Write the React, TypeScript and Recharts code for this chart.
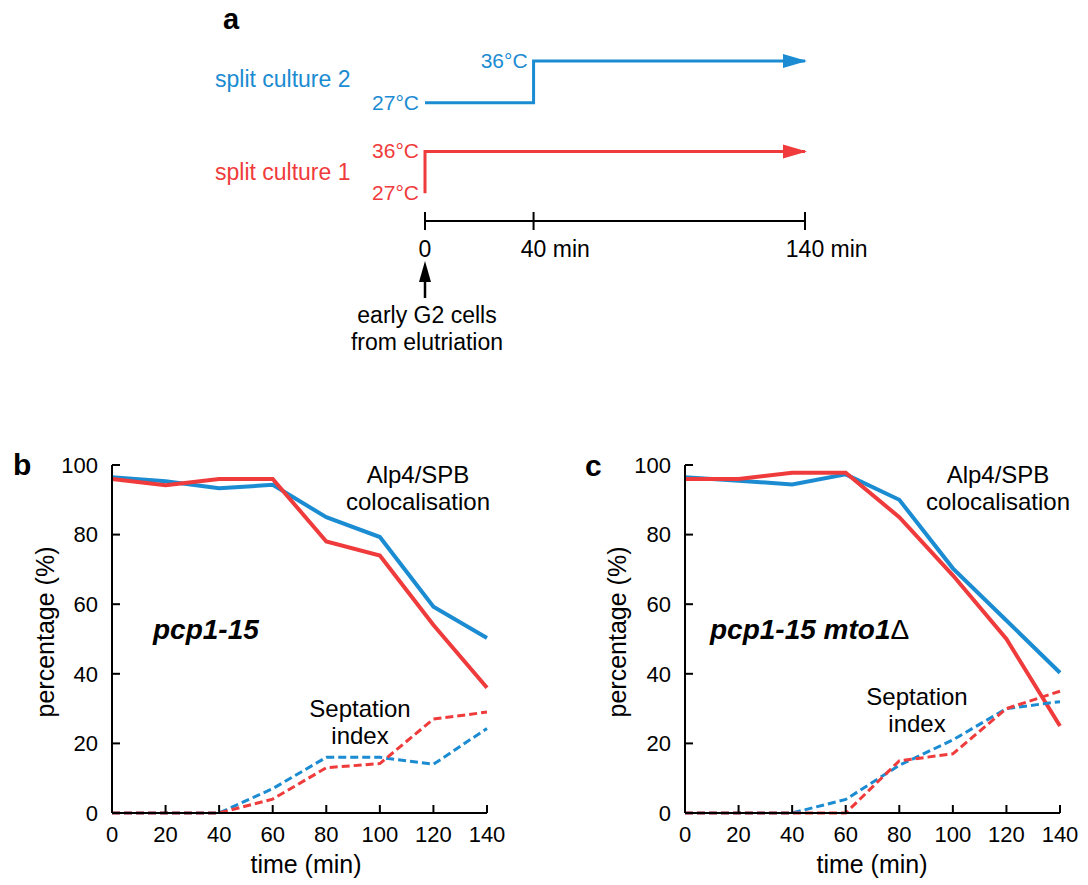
import React from 'react';
import { LineChart, Line, XAxis, YAxis } from 'recharts';

const FONT = '"Liberation Sans", Arial, Helvetica, sans-serif';
const BLUE = '#1b8bd2';
const RED = '#ef3b3b';

// panel a: temperature shift protocol
const culture2Time = [0, 40, 40, 140];
const culture2Temp = [27, 27, 36, 36];
const culture1Time = [0, 0, 140];
const culture1Temp = [27, 36, 36];
const protocolTicks = [0, 40, 140];

// panels b and c
const timePoints = [0, 20, 40, 60, 80, 100, 120, 140];
const percentTicks = [0, 20, 40, 60, 80, 100];

const pcpAlp4Culture2 = [96.5, 95.3, 93.3, 94.3, 85, 79.3, 59.3, 50.3];
const pcpAlp4Culture1 = [96, 94.2, 96, 96, 78, 74, 54, 36];
const pcpSeptCulture2 = [0, 0, 0, 7, 16, 16, 14, 24.3];
const pcpSeptCulture1 = [0, 0, 0, 4, 13, 14.2, 27, 29];

const mtoAlp4Culture2 = [96.5, 95.5, 94.4, 97.3, 90, 70.3, 55.3, 40.3];
const mtoAlp4Culture1 = [96, 96, 97.8, 97.8, 85, 68.3, 50, 25];
const mtoSeptCulture2 = [0, 0, 0, 3.9, 13.7, 21, 30, 32];
const mtoSeptCulture1 = [0, 0, 0, 0, 15, 17, 30, 35];

const toSteps = (ts: number[], vs: number[]) => ts.map((t, i) => ({ t, v: vs[i] }));

const panelRows = (a2: number[], a1: number[], s2: number[], s1: number[]) =>
  timePoints.map((t, i) => ({ t, a2: a2[i], a1: a1[i], s2: s2[i], s1: s1[i] }));

const pcpRows = panelRows(pcpAlp4Culture2, pcpAlp4Culture1, pcpSeptCulture2, pcpSeptCulture1);
const mtoRows = panelRows(mtoAlp4Culture2, mtoAlp4Culture1, mtoSeptCulture2, mtoSeptCulture1);

function ProtocolTick(props: any) {
  const { x, y, payload } = props;
  const v = payload.value;
  const fs = 23;
  const numW = String(v).length * 0.556 * fs;
  return (
    <g>
      <line x1={x} x2={x} y1={y - 9} y2={y + 9} stroke="#000" strokeWidth={2} />
      <text x={x} y={y + 36} textAnchor="middle" fontSize={fs} fontFamily={FONT} fill="#000">
        {v}
      </text>
      {v > 0 && (
        <text x={x + numW / 2 + 0.278 * fs} y={y + 36} fontSize={fs} fontFamily={FONT} fill="#000">
          min
        </text>
      )}
      {v === 0 && (
        <g>
          <line x1={x} x2={x} y1={y + 77} y2={y + 58} stroke="#000" strokeWidth={2.5} />
          <polygon points={`${x},${y + 40} ${x - 6},${y + 61} ${x + 6},${y + 61}`} fill="#000" />
          <text x={x + 2} y={y + 102} textAnchor="middle" fontSize={fs} fontFamily={FONT} fill="#000">
            early G2 cells
          </text>
          <text x={x + 2} y={y + 129} textAnchor="middle" fontSize={fs} fontFamily={FONT} fill="#000">
            from elutriation
          </text>
        </g>
      )}
    </g>
  );
}

const arrowHead = (count: number, color: string) => (props: any) => {
  const { cx, cy, index } = props;
  if (index !== count - 1) return <g key={index} />;
  return (
    <polygon
      key={index}
      points={`${cx + 2},${cy} ${cx - 22},${cy - 7} ${cx - 22},${cy + 7}`}
      fill={color}
    />
  );
};

const tempLabel = (temps: number[], color: string) => (props: any) => {
  const { index, value } = props;
  const x = props.x ?? props.viewBox?.x;
  const y = props.y ?? props.viewBox?.y;
  if (index > 0 && temps[index] === temps[index - 1]) return <g key={index} />;
  return (
    <text key={index} x={x - 6} y={y + 7} textAnchor="end" fontSize={21} fontFamily={FONT} fill={color}>
      {value}°C
    </text>
  );
};

function ProtocolChart() {
  return (
    <LineChart width={1088} height={360} margin={{ top: 40, right: 283, left: 425, bottom: 109 }}>
      <XAxis
        dataKey="t"
        type="number"
        domain={[0, 140]}
        ticks={protocolTicks}
        height={30}
        tickSize={0}
        tickMargin={0}
        axisLine={{ stroke: '#000', strokeWidth: 2 }}
        tickLine={false}
        tick={<ProtocolTick />}
        interval={0}
      />
      <YAxis yAxisId="c2" hide domain={[1.5, 40.5]} />
      <YAxis yAxisId="c1" hide domain={[21, 60]} />
      <Line
        yAxisId="c2"
        data={toSteps(culture2Time, culture2Temp)}
        dataKey="v"
        type="linear"
        stroke={BLUE}
        strokeWidth={3}
        dot={arrowHead(culture2Time.length, BLUE)}
        label={tempLabel(culture2Temp, BLUE)}
        isAnimationActive={false}
      />
      <Line
        yAxisId="c1"
        data={toSteps(culture1Time, culture1Temp)}
        dataKey="v"
        type="linear"
        stroke={RED}
        strokeWidth={3}
        dot={arrowHead(culture1Time.length, RED)}
        label={tempLabel(culture1Temp, RED)}
        isAnimationActive={false}
      />
    </LineChart>
  );
}

const axisStyle = { stroke: '#000', strokeWidth: 2 };
const tickStyle = { fill: '#000', fontSize: 22, fontFamily: FONT };

function PercentChart({ rows, width, right }: { rows: any[]; width: number; right: number }) {
  return (
    <LineChart width={width} height={445} data={rows} margin={{ top: 25, right, left: 0, bottom: 0 }}>
      <XAxis
        dataKey="t"
        type="number"
        domain={[0, 140]}
        ticks={timePoints}
        interval={0}
        height={72}
        tickSize={-8}
        tickMargin={21}
        axisLine={axisStyle}
        tickLine={axisStyle}
        tick={tickStyle}
      />
      <YAxis
        domain={[0, 100]}
        ticks={percentTicks}
        interval={0}
        width={112}
        tickSize={-8}
        tickMargin={22}
        axisLine={axisStyle}
        tickLine={axisStyle}
        tick={tickStyle}
      />
      <Line dataKey="a2" stroke={BLUE} strokeWidth={4} dot={false} isAnimationActive={false} />
      <Line dataKey="a1" stroke={RED} strokeWidth={4} dot={false} isAnimationActive={false} />
      <Line dataKey="s2" stroke={BLUE} strokeWidth={3} strokeDasharray="8 4" dot={false} isAnimationActive={false} />
      <Line dataKey="s1" stroke={RED} strokeWidth={3} strokeDasharray="8 4" dot={false} isAnimationActive={false} />
    </LineChart>
  );
}

function Annotations() {
  const t = { fontFamily: FONT, fill: '#000' } as const;
  return (
    <svg width={1088} height={885} style={{ position: 'absolute', left: 0, top: 0, pointerEvents: 'none' }}>
      <text x={223} y={29} fontSize={29} fontWeight="bold" {...t}>a</text>
      <text x={215} y={87} fontSize={23} fontFamily={FONT} fill={BLUE}>split culture 2</text>
      <text x={215} y={180} fontSize={23} fontFamily={FONT} fill={RED}>split culture 1</text>

      <text x={13} y={475} fontSize={30} fontWeight="bold" {...t}>b</text>
      <text x={418} y={483} fontSize={24} textAnchor="middle" {...t}>Alp4/SPB</text>
      <text x={418} y={510} fontSize={24} textAnchor="middle" {...t}>colocalisation</text>
      <text x={153} y={639} fontSize={28} fontWeight="bold" fontStyle="italic" {...t}>pcp1-15</text>
      <text x={360} y={717} fontSize={24} textAnchor="middle" {...t}>Septation</text>
      <text x={360} y={744} fontSize={24} textAnchor="middle" {...t}>index</text>
      <text x={54} y={632} fontSize={25} textAnchor="middle" transform="rotate(-90 54 632)" {...t}>percentage (%)</text>
      <text x={306} y={873} fontSize={25} textAnchor="middle" {...t}>time (min)</text>

      <text x={585} y={476} fontSize={30} fontWeight="bold" {...t}>c</text>
      <text x={998} y={483} fontSize={24} textAnchor="middle" {...t}>Alp4/SPB</text>
      <text x={998} y={510} fontSize={24} textAnchor="middle" {...t}>colocalisation</text>
      <text x={710} y={639} fontSize={28} fontWeight="bold" fontStyle="italic" {...t}>
        pcp1-15 mto1<tspan fontWeight="normal" fontStyle="normal">Δ</tspan>
      </text>
      <text x={917} y={705} fontSize={24} textAnchor="middle" {...t}>Septation</text>
      <text x={917} y={732} fontSize={24} textAnchor="middle" {...t}>index</text>
      <text x={626} y={632} fontSize={25} textAnchor="middle" transform="rotate(-90 626 632)" {...t}>percentage (%)</text>
      <text x={872} y={873} fontSize={25} textAnchor="middle" {...t}>time (min)</text>
    </svg>
  );
}

export default function App() {
  return (
    <div style={{ position: 'absolute', left: 0, top: 0, width: 1088, height: 885, background: '#fff', fontFamily: FONT }}>
      <div style={{ position: 'absolute', left: 0, top: 0 }}>
        <ProtocolChart />
      </div>
      <div style={{ position: 'absolute', left: 0, top: 440 }}>
        <PercentChart rows={pcpRows} width={520} right={33} />
      </div>
      <div style={{ position: 'absolute', left: 573, top: 440 }}>
        <PercentChart rows={mtoRows} width={515} right={28} />
      </div>
      <Annotations />
    </div>
  );
}
